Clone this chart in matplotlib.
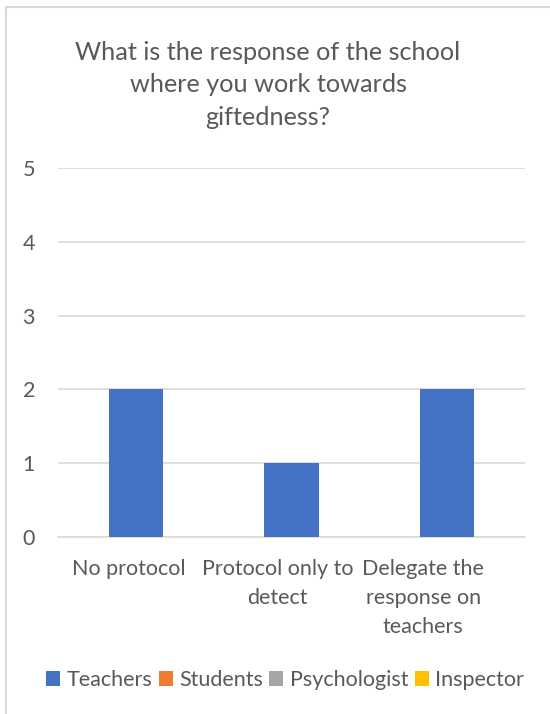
import matplotlib
matplotlib.use("Agg")
import matplotlib.pyplot as plt
from matplotlib.lines import Line2D
from matplotlib.patches import Patch
from matplotlib.transforms import ScaledTranslation
import numpy as np

# Survey answers
categories = ["No protocol", "Protocol only to\ndetect", "Delegate the\nresponse on\nteachers"]
series_names = ["Teachers", "Students", "Psychologist", "Inspector"]
teachers = [2, 1, 2]
students = [0, 0, 0]
psychologist = [0, 0, 0]
inspector = [0, 0, 0]
series_values = [teachers, students, psychologist, inspector]
series_colors = ["#4472C4", "#ED7D31", "#A5A5A5", "#FFC000"]
y_ticks = [0, 1, 2, 3, 4, 5]
title = "What is the response of the school\nwhere you work towards\ngiftedness?"

plt.rcParams["font.family"] = ["Lato", "DejaVu Sans"]
text_color = "#595959"
grid_color = "#D9D9D9"

W, H = 550, 714
fig = plt.figure(figsize=(W / 100, H / 100), dpi=100)
fig.patch.set_facecolor("white")

# chart-area border (left and top edges)
fig.add_artist(Line2D([6 / W, 6 / W], [0, 1 - 7 / H], transform=fig.transFigure,
                      color=grid_color, lw=1.5))
fig.add_artist(Line2D([6 / W, 1], [1 - 7 / H, 1 - 7 / H], transform=fig.transFigure,
                      color=grid_color, lw=1.5))

left, right = 58 / W, 525 / W
bottom, top = 1 - 537 / H, 1 - 168 / H
ax = fig.add_axes([left, bottom, right - left, top - bottom])

x = np.arange(len(categories))
for vals, name, col in zip(series_values, series_names, series_colors):
    ax.bar(x, vals, width=0.35, color=col, label=name, linewidth=0, zorder=3)

ax.set_xlim(-0.5, len(categories) - 0.5)
ax.set_ylim(0, 5)
ax.set_yticks(y_ticks)
ax.set_xticks(x)
ax.set_xticklabels(categories, linespacing=1.58)
ax.tick_params(axis="both", length=0, colors=text_color)
ax.tick_params(axis="y", pad=16.5, labelsize=15.5)
ax.tick_params(axis="x", pad=15.5, labelsize=15.5)
ax.grid(axis="y", color=grid_color, lw=1.2, zorder=0)
for side in ["top", "right", "left"]:
    ax.spines[side].set_visible(False)
ax.spines["bottom"].set_color(grid_color)
ax.spines["bottom"].set_linewidth(1.2)

# wrapped category labels sit slightly left of their bars
for lbl, dx in zip(ax.get_xticklabels(), [-7, -14, -24]):
    lbl.set_transform(lbl.get_transform() + ScaledTranslation(dx / 100, 0, fig.dpi_scale_trans))

fig.text(268 / W, 1 - 85 / H, title, ha="center", va="center",
         fontsize=18.2, color=text_color, linespacing=1.52)

handles = [Patch(facecolor=c, edgecolor="none") for c in series_colors]
fig.legend(handles, series_names, loc="center", bbox_to_anchor=(285 / W, 1 - 680 / H),
           ncol=4, frameon=False, fontsize=15.5, labelcolor=text_color,
           handlelength=0.65, handleheight=0.65, handletextpad=0.3, columnspacing=0.3)

fig.savefig("out.png", dpi=100, facecolor="white")
